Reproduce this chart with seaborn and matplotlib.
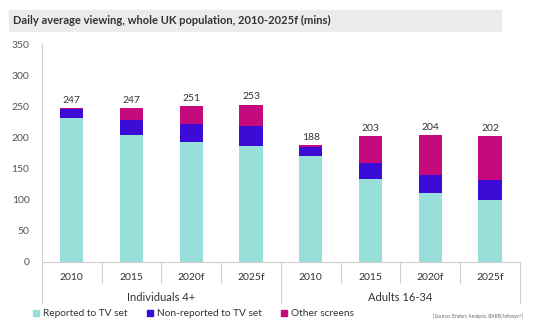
import matplotlib
matplotlib.use("Agg")
import matplotlib.pyplot as plt
import seaborn as sns
import pandas as pd
import numpy as np
from matplotlib.patches import Patch, Rectangle
from matplotlib.lines import Line2D

groups = ["Individuals 4+", "Adults 16-34"]
years = ["2010", "2015", "2020f", "2025f"]
reported = [232, 204, 193, 187, 170, 133, 110, 100]
non_reported = [13, 24, 28, 31, 14, 26, 30, 32]
other = [2, 19, 30, 35, 4, 44, 64, 70]
totals = [247, 247, 251, 253, 188, 203, 204, 202]

c_rep = "#98DFD9"
c_non = "#3A0CD6"
c_oth = "#C6097C"

sns.set_theme(style="white")
plt.rcParams["font.family"] = ["Lato", "DejaVu Sans"]

cats = [f"{g}|{y}" for g in groups for y in years]
df = pd.DataFrame({
    "cat": cats,
    "reported": reported,
    "non": non_reported,
    "other": other,
    "total": totals,
})
df["rep_non"] = df["reported"] + df["non"]
df["stack_total"] = df["rep_non"] + df["other"]

fig = plt.figure(figsize=(5.52, 3.32), dpi=100)
ax = fig.add_axes([0.076, 0.211, 0.866, 0.656])

w = 0.39
sns.barplot(data=df, x="cat", y="stack_total", order=cats, color=c_oth, width=w,
            saturation=1, ax=ax, linewidth=0)
sns.barplot(data=df, x="cat", y="rep_non", order=cats, color=c_non, width=w,
            saturation=1, ax=ax, linewidth=0)
sns.barplot(data=df, x="cat", y="reported", order=cats, color=c_rep, width=w,
            saturation=1, ax=ax, linewidth=0)

for i, t in enumerate(df["total"]):
    ax.text(i, df["stack_total"][i] + 5, str(t), ha="center", va="bottom",
            fontsize=7.5, color="#333333")

ax.set_ylim(0, 350)
ax.set_xlim(-0.5, 7.5)
ax.set_yticks(np.arange(0, 351, 50))
ax.tick_params(axis="y", labelsize=7.5, colors="#555555", length=0, pad=9)
ax.set_xticks(range(8))
ax.set_xticklabels(years * 2, fontsize=7.5, color="#333333")
ax.tick_params(axis="x", length=0, pad=8)
ax.set_xlabel("")
ax.set_ylabel("")
for s in ["top", "right"]:
    ax.spines[s].set_visible(False)
ax.spines["left"].set_color("#d0d0d0")
ax.spines["bottom"].set_color("#d0d0d0")
ax.spines["left"].set_linewidth(0.8)
ax.spines["bottom"].set_linewidth(0.8)

# category separators below axis
trans = ax.get_xaxis_transform()
for k in range(9):
    x = k - 0.5
    if k in (0, 4, 8):
        y0 = -0.188
    else:
        y0 = -0.096
    ax.add_line(Line2D([x, x], [0, y0], transform=trans, color="#d0d0d0",
                       lw=0.8, clip_on=False))
for gi, g in enumerate(groups):
    ax.text(gi * 4 + 1.5, -0.164, g, transform=trans, ha="center", va="center",
            fontsize=8, color="#333333")

# title band
fig.patches.append(Rectangle((9 / 552, 1 - 31 / 332), 492 / 552, 21 / 332,
                             transform=fig.transFigure, color="#EBEBEB", zorder=0))
fig.text(13 / 552, 1 - 20.5 / 332,
         "Daily average viewing, whole UK population, 2010-2025f (mins)",
         fontsize=8, fontweight="bold", color="#333333", va="center", ha="left")

handles = [Patch(color=c_rep, label="Reported to TV set"),
           Patch(color=c_non, label="Non-reported to TV set"),
           Patch(color=c_oth, label="Other screens")]
fig.legend(handles=handles, loc="center left", bbox_to_anchor=(24 / 552, 1 - 314 / 332),
           ncol=3, frameon=False, fontsize=7.3, handlelength=0.6, handleheight=0.6,
           handletextpad=0.4, columnspacing=1.9, labelcolor="#333333")
fig.text(523 / 552, 1 - 316 / 332, "[Source: Enders Analysis, BARB/Infosys+]",
         fontsize=3.5, color="#666666", ha="right", va="center")

fig.savefig("out.png", dpi=100)
